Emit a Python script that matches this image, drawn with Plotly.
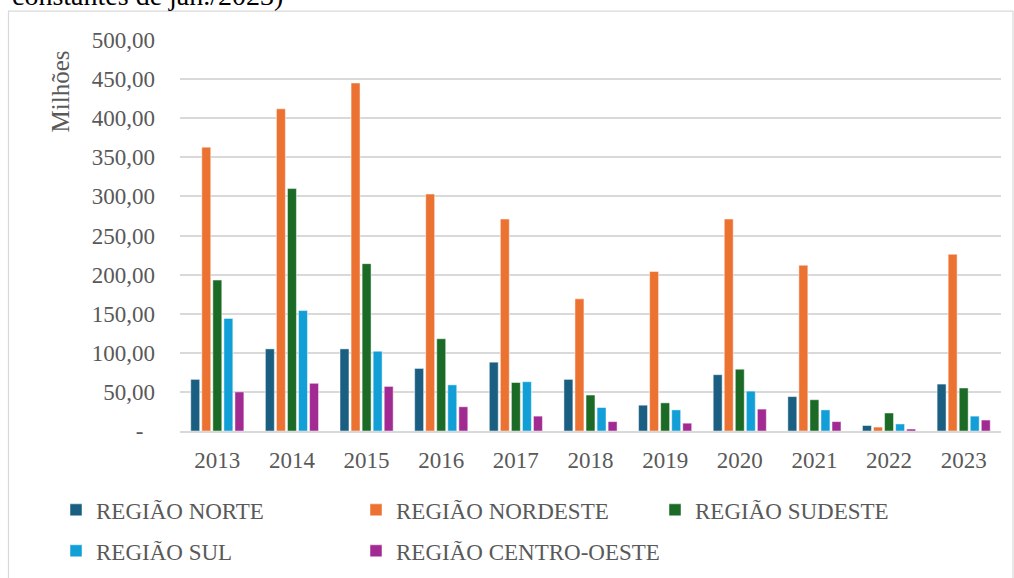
import plotly.graph_objects as go

years = ["2013", "2014", "2015", "2016", "2017", "2018", "2019", "2020", "2021", "2022", "2023"]
norte = [66, 105, 105, 80, 88, 66, 33, 72, 44, 7, 60]
nordeste = [363, 412, 445, 303, 271, 169, 204, 271, 212, 5, 226]
sudeste = [193, 310, 214, 118, 62, 46, 36, 79, 40, 23, 55]
sul = [144, 154, 102, 59, 63, 30, 27, 51, 27, 9, 19]
centro_oeste = [50, 61, 57, 31, 19, 12, 10, 28, 12, 2.5, 14]

series_names = ["REGIÃO NORTE", "REGIÃO NORDESTE", "REGIÃO SUDESTE", "REGIÃO SUL", "REGIÃO CENTRO-OESTE"]
series_values = [norte, nordeste, sudeste, sul, centro_oeste]
colors = ["#1a5f82", "#ec7232", "#1b6b27", "#129fd8", "#a22b93"]

y_tickvals = [0, 50, 100, 150, 200, 250, 300, 350, 400, 450, 500]
y_ticktext = ["-\u00a0\u00a0", "50,00", "100,00", "150,00", "200,00", "250,00",
              "300,00", "350,00", "400,00", "450,00", "500,00"]

W, H = 1014, 578
L, R, T, B = 180, 13, 39.5, 147
pw, ph = W - L - R, H - T - B

def px_x(p):
    return (p - L) / pw

def px_y(p):
    return (H - B - p) / ph

font_family = "Liberation Serif, Times New Roman, serif"
gray = "#595959"
fnt = dict(family=font_family, size=23, color=gray)

# legend entry positions (pixel x of entry start, pixel y of row centre)
legend_pos = [(56, 510), (356, 510), (655, 510), (56, 551), (356, 551)]
legend_ids = ["legend", "legend2", "legend3", "legend4", "legend5"]

fig = go.Figure()
for name, vals, col, lg in zip(series_names, series_values, colors, legend_ids):
    fig.add_trace(go.Bar(
        x=years, y=vals, name=name, legend=lg,
        marker=dict(color=col, line=dict(color="rgba(255,255,255,0.6)", width=0.8)),
    ))

legend_layout = {}
for lg, (lx, ly) in zip(legend_ids, legend_pos):
    legend_layout[lg] = dict(orientation="h", x=px_x(lx), y=px_y(ly),
                             xanchor="left", yanchor="middle",
                             font=fnt, bgcolor="rgba(0,0,0,0)")

fig.update_layout(
    width=W, height=H,
    margin=dict(l=L, r=R, t=T, b=B, pad=0, autoexpand=False),
    paper_bgcolor="white", plot_bgcolor="white",
    barmode="group", bargap=0.26, bargroupgap=0.19,
    font=fnt,
    xaxis=dict(showgrid=False, showline=True, linecolor="#d9d9d9", linewidth=1.5,
               ticks="", tickfont=fnt, ticklabelstandoff=8),
    yaxis=dict(range=[0, 500], tickvals=y_tickvals, ticktext=y_ticktext,
               showgrid=True, gridcolor="#d9d9d9", gridwidth=1.5, zeroline=False,
               ticks="", tickfont=fnt, ticklabelstandoff=24),
    showlegend=True,
    **legend_layout,
)

fig.add_annotation(text="Milhões", xref="paper", yref="paper",
                   x=px_x(60), y=px_y(91), xanchor="center", yanchor="middle",
                   textangle=-90, showarrow=False,
                   font=dict(family=font_family, size=25, color=gray))

fig.add_annotation(text="constantes de jan./2023)", xref="paper", yref="paper",
                   x=px_x(10), y=px_y(12), xanchor="left", yanchor="bottom",
                   showarrow=False,
                   font=dict(family=font_family, size=28, color="#000000"))

fig.add_shape(type="rect", xref="paper", yref="paper",
              x0=px_x(8.5), x1=px_x(1013), y0=px_y(600), y1=px_y(10.5),
              line=dict(color="#d9d9d9", width=1.2), layer="below")

fig.write_html("out.html", config={"displayModeBar": False},
               post_script="document.body.style.margin='0';document.body.style.overflow='hidden';")
